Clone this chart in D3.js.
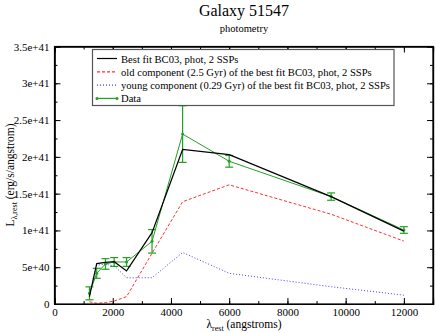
<!DOCTYPE html>
<html>
<head>
<meta charset="utf-8">
<script src="https://cdn.jsdelivr.net/npm/d3@7"></script>
<style>
  body { margin: 0; background: #fff; }
  svg text { font-family: "Liberation Serif", "DejaVu Serif", serif; }
  .axis path { stroke: #000; }
  .axis line { stroke: #000; }
  .axis text { font-size: 11px; fill: #000; font-family: "Liberation Serif", serif; }
</style>
</head>
<body>
<div id="chart"></div>
<script>
// wavelengths (angstroms, rest frame)
var lambda = [1200, 1450, 1750, 2050, 2475, 3350, 4400, 6000, 9500, 12000];
// observed photometry and its errors (erg/s/angstrom)
var dataFlux = [0.145e41, 0.417e41, 0.544e41, 0.571e41, 0.571e41, 0.852e41, 2.31e41, 1.94e41, 1.46e41, 1.006e41];
var dataErr  = [0.088e41, 0.068e41, 0.072e41, 0.06e41, 0.06e41, 0.16e41, 0.385e41, 0.08e41, 0.05e41, 0.045e41];
// model curves
var bestFit = [0.10e41, 0.55e41, 0.565e41, 0.575e41, 0.45e41, 0.97e41, 2.10e41, 2.03e41, 1.46e41, 0.99e41];
var oldComp = [0.03e41, 0.01e41, 0.02e41, 0.04e41, 0.10e41, 0.69e41, 1.39e41, 1.62e41, 1.22e41, 0.855e41];
var youngComp = [0.12e41, 0.53e41, 0.54e41, 0.52e41, 0.357e41, 0.357e41, 0.70e41, 0.417e41, 0.235e41, 0.12e41];

var legendLabels = [
  "Best fit BC03, phot, 2 SSPs",
  "old component (2.5 Gyr) of the best fit BC03, phot, 2 SSPs",
  "young component (0.29 Gyr) of the best fit BC03, phot, 2 SSPs",
  "Data"
];
var xTicks = [0, 2000, 4000, 6000, 8000, 10000, 12000];
var yTicks = [0, 0.5e41, 1e41, 1.5e41, 2e41, 2.5e41, 3e41, 3.5e41];

var width = 436, height = 333;
var mLeft = 54.5, mRight = 433, mTop = 46.5, mBottom = 304;

var svg = d3.select("#chart").append("svg")
  .attr("width", width)
  .attr("height", height);

var x = d3.scaleLinear().domain([0, 13000]).range([mLeft, mRight]);
var y = d3.scaleLinear().domain([0, 3.5e41]).range([mBottom, mTop]);

function fmtY(v) {
  return v === 0 ? "0" : v.toExponential();
}
function fmtX(v) { return String(v); }

var xMinor = d3.range(0, 13001, 1000);
var yMinor = d3.range(0, 14).map(function(i) { return i * 0.25e41; });

// minor ticks on all sides
svg.append("g").attr("class", "axis").attr("transform", "translate(0," + mBottom + ")")
  .call(d3.axisBottom(x).tickValues(xMinor).tickSize(-3).tickFormat(""));
svg.append("g").attr("class", "axis").attr("transform", "translate(0," + mTop + ")")
  .call(d3.axisTop(x).tickValues(xMinor).tickSize(-3).tickFormat(""));
svg.append("g").attr("class", "axis").attr("transform", "translate(" + mLeft + ",0)")
  .call(d3.axisLeft(y).tickValues(yMinor).tickSize(-3).tickFormat(""));
svg.append("g").attr("class", "axis").attr("transform", "translate(" + mRight + ",0)")
  .call(d3.axisRight(y).tickValues(yMinor).tickSize(-3).tickFormat(""));

// major ticks
svg.append("g").attr("class", "axis").attr("transform", "translate(0," + mBottom + ")")
  .call(d3.axisBottom(x).tickValues(xTicks).tickSize(-6).tickPadding(4).tickFormat(fmtX));
svg.append("g").attr("class", "axis").attr("transform", "translate(0," + mTop + ")")
  .call(d3.axisTop(x).tickValues(xTicks).tickSize(-6).tickFormat(""));
svg.append("g").attr("class", "axis").attr("transform", "translate(" + mLeft + ",0)")
  .call(d3.axisLeft(y).tickValues(yTicks).tickSize(-6).tickPadding(5).tickFormat(fmtY));
svg.append("g").attr("class", "axis").attr("transform", "translate(" + mRight + ",0)")
  .call(d3.axisRight(y).tickValues(yTicks).tickSize(-6).tickFormat(""));

svg.selectAll(".axis path").attr("stroke-width", 1.2);

var line = d3.line()
  .x(function(d) { return x(d[0]); })
  .y(function(d) { return y(d[1]); });

function pairs(vals) {
  return lambda.map(function(l, i) { return [l, vals[i]]; });
}

var red = "#ff3030", blue = "#4040ff", green = "#22a022";

// young (blue dotted)
svg.append("path").datum(pairs(youngComp))
  .attr("d", line).attr("fill", "none")
  .attr("stroke", blue).attr("stroke-width", 1).attr("stroke-dasharray", "1,2");
// old (red dashed)
svg.append("path").datum(pairs(oldComp))
  .attr("d", line).attr("fill", "none")
  .attr("stroke", red).attr("stroke-width", 1).attr("stroke-dasharray", "3,2");
// data (green with error bars)
svg.append("path").datum(pairs(dataFlux))
  .attr("d", line).attr("fill", "none")
  .attr("stroke", green).attr("stroke-width", 1);
var eb = svg.append("g").attr("stroke", green).attr("stroke-width", 1.2);
lambda.forEach(function(l, i) {
  var cx = x(l), y0 = y(dataFlux[i] - dataErr[i]), y1 = y(dataFlux[i] + dataErr[i]);
  eb.append("line").attr("x1", cx).attr("x2", cx).attr("y1", y0).attr("y2", y1);
  eb.append("line").attr("x1", cx - 4).attr("x2", cx + 4).attr("y1", y0).attr("y2", y0);
  eb.append("line").attr("x1", cx - 4).attr("x2", cx + 4).attr("y1", y1).attr("y2", y1);
});
svg.append("g").selectAll("circle").data(pairs(dataFlux)).enter().append("circle")
  .attr("cx", function(d) { return x(d[0]); })
  .attr("cy", function(d) { return y(d[1]); })
  .attr("r", 1.5).attr("fill", green);
// best fit (black)
svg.append("path").datum(pairs(bestFit))
  .attr("d", line).attr("fill", "none")
  .attr("stroke", "#000").attr("stroke-width", 1.2);

// frame
svg.append("rect")
  .attr("x", mLeft).attr("y", mTop)
  .attr("width", mRight - mLeft).attr("height", mBottom - mTop)
  .attr("fill", "none").attr("stroke", "#000").attr("stroke-width", 1.2);

// legend
var lg = svg.append("g");
lg.append("rect").attr("x", 92.5).attr("y", 49.5).attr("width", 301.5).attr("height", 56)
  .attr("fill", "#fff").attr("stroke", "#555").attr("stroke-width", 1.2);
var styles = [
  { c: "#000", dash: null },
  { c: red, dash: "3,2" },
  { c: blue, dash: "1,2" },
  { c: green, dash: null }
];
legendLabels.forEach(function(t, i) {
  var ly = 58.5 + i * 13.3;
  lg.append("line").attr("x1", 97).attr("x2", 117).attr("y1", ly).attr("y2", ly)
    .attr("stroke", styles[i].c).attr("stroke-width", 1.2)
    .attr("stroke-dasharray", styles[i].dash);
  if (i === 3) {
    lg.append("circle").attr("cx", 97).attr("cy", ly).attr("r", 1.5).attr("fill", green);
    lg.append("circle").attr("cx", 117).attr("cy", ly).attr("r", 1.5).attr("fill", green);
  }
  lg.append("text").attr("x", 121).attr("y", ly + 4)
    .attr("font-size", "10.6px").text(t);
});

// titles
svg.append("text").attr("x", 244).attr("y", 16).attr("text-anchor", "middle")
  .attr("font-size", "16px").text("Galaxy 51547");
svg.append("text").attr("x", 244).attr("y", 32).attr("text-anchor", "middle")
  .attr("font-size", "10.5px").text("photometry");

// x label
var xl = svg.append("text").attr("x", 244).attr("y", 328).attr("text-anchor", "middle")
  .attr("font-size", "11.5px");
xl.append("tspan").text("λ");
xl.append("tspan").attr("font-size", "8px").attr("dy", 3).text("rest");
xl.append("tspan").attr("dy", -3).text(" (angstroms)");

// y label
var yl = svg.append("text").attr("transform", "translate(14,175) rotate(-90)")
  .attr("text-anchor", "middle").attr("font-size", "11.5px");
yl.append("tspan").text("L");
yl.append("tspan").attr("font-size", "8px").attr("dy", 3).text("λ,rest");
yl.append("tspan").attr("dy", -3).text(" (erg/s/angstrom)");
</script>
</body>
</html>
